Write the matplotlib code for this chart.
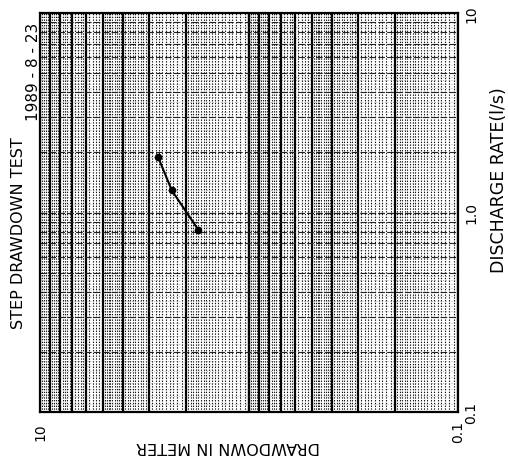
import numpy as np
import matplotlib
matplotlib.use("Agg")
import matplotlib.pyplot as plt
from matplotlib.ticker import FixedLocator

# step drawdown test
drawdown_m = [2.72, 2.34, 1.75]
discharge_ls = [1.89, 1.29, 0.82]

title = "STEP DRAWDOWN TEST"
date_text = "1989 - 8 - 23"
x_label = "DRAWDOWN IN METER"
y_label = "DISCHARGE RATE(l/s)"
x_tick_vals = [10, 0.1]
x_tick_text = ["10", "0.1"]
y_tick_vals = [10, 1.0, 0.1]
y_tick_text = ["10", "1.0", "0.1"]


def paper_lines(decades, fine):
    # graph-paper rulings for a log axis
    major, minor = [], []
    for d in decades:
        major += [k * d for k in range(1, 11)]
        if fine:
            minor += list(np.arange(1.05, 2.0, 0.05) * d)
            minor += list(np.arange(2.1, 5.0, 0.1) * d)
            minor += list(np.arange(5.2, 10.0, 0.2) * d)
        else:
            minor += list(np.arange(1.1, 2.0, 0.1) * d)
            minor += list(np.arange(2.2, 5.0, 0.2) * d)
            minor += list(np.arange(5.5, 10.0, 0.5) * d)
    return major, minor


fig = plt.figure(figsize=(5.08, 4.60), dpi=100)
ax = fig.add_axes((40 / 508, 1 - 413 / 460, 418 / 508, 399 / 460))

ax.set_xscale("log")
ax.set_yscale("log")
ax.set_xlim(10, 0.1)
ax.set_ylim(0.1, 10)

xmaj, xmin = paper_lines([0.1, 1], True)
ymaj, ymin = paper_lines([0.1, 1], False)
ax.xaxis.set_major_locator(FixedLocator(xmaj))
ax.xaxis.set_minor_locator(FixedLocator(xmin))
ax.yaxis.set_major_locator(FixedLocator(ymaj))
ax.yaxis.set_minor_locator(FixedLocator(ymin))

ax.grid(which="major", axis="x", color="black", lw=1.6)
ax.grid(which="minor", axis="x", color="#111111", lw=0.8, ls=(0, (1.2, 1.3)))
ax.grid(which="major", axis="y", color="#222222", lw=0.8, ls=(0, (6, 2)))
ax.grid(which="minor", axis="y", color="#666666", lw=0.5, ls=(0, (1, 3)))
ax.set_axisbelow(True)

ax.tick_params(which="both", length=0, labelleft=False, labelbottom=False)
for s in ax.spines.values():
    s.set_linewidth(1.6)
    s.set_color("black")

ax.plot(drawdown_m, discharge_ls, color="black", lw=1.5,
        marker="o", ms=4.5, zorder=5)

# tick labels, drawn sideways like the scanned sheet
ytr = ax.get_yaxis_transform()
for v, t in zip(y_tick_vals, y_tick_text):
    ax.text(1.032, v, t, transform=ytr, rotation=90, ha="center",
            va="center", fontsize=10, clip_on=False)
xtr = ax.get_xaxis_transform()
for v, t in zip(x_tick_vals, x_tick_text):
    ax.text(v, -0.047, t, transform=xtr, rotation=90, ha="center",
            va="center", fontsize=10, clip_on=False)

fig.text(499 / 508, 1 - 180 / 460, y_label, rotation=90, ha="center",
         va="center", fontsize=12.5)
fig.text(228 / 508, 1 - 447 / 460, x_label, rotation=180, ha="center",
         va="center", fontsize=11.5)
fig.text(19 / 508, 1 - 233 / 460, title, rotation=90, ha="center",
         va="center", fontsize=11.5)
fig.text(33 / 508, 1 - 72 / 460, date_text, rotation=90, ha="center",
         va="center", fontsize=11)

fig.savefig("out.png", dpi=100)
